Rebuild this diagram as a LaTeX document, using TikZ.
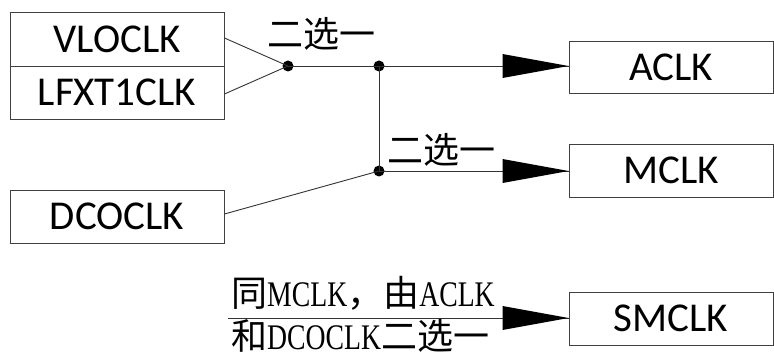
\documentclass[tikz,border=0pt]{standalone}
\usepackage{fontspec}
\setmainfont{Carlito}
\newfontfamily\cjk{Noto Sans CJK SC}
\newfontfamily\latcond[FakeStretch=0.77]{Liberation Serif}
\tikzset{
  box/.style={draw=black!75, line width=0.9pt, inner sep=0pt, font=\fontsize{41}{48}\selectfont},
  wire/.style={draw=black!80, line width=0.9pt},
  head/.style={fill=black},
  dot/.style={circle, fill=black, inner sep=0pt, minimum size=11pt},
  cn/.style={font=\fontsize{36}{40}\selectfont\cjk, inner sep=0pt}
}
\begin{document}
\begin{tikzpicture}[x=1pt,y=-1pt]
\useasboundingbox (0,0) rectangle (774,358);
\node[box, minimum width=214pt, minimum height=54pt] (vl) at (117,39) {VLOCLK};
\node[box, minimum width=214pt, minimum height=53pt] (lf) at (117,92.5) {LFXT1CLK};
\node[box, minimum width=214pt, minimum height=53pt] (dco) at (117,216.5) {DCOCLK};
\node[box, minimum width=204pt, minimum height=52pt] (ac) at (671,67) {ACLK};
\node[box, minimum width=204pt, minimum height=53pt] (mc) at (671,170.5) {MCLK};
\node[box, minimum width=204pt, minimum height=53pt] (sm) at (671,318.5) {SMCLK};
\node[dot] (d1) at (288,66) {};
\node[dot] (d2) at (379,66) {};
\node[dot] (d3) at (379,171) {};
\coordinate (s0) at (228,318);
\draw[wire] (vl.east |- 0,38) -- (d1.center);
\draw[wire] (lf.east |- 0,94) -- (d1.center);
\draw[wire] (dco.east |- 0,214) -- (d3.center);
\draw[wire] (d1.center) -- (d2.center) -- (d3.center);
\draw[wire] (d2.center) -- (d2.center -| ac.west);
\draw[wire] (d3.center) -- (d3.center -| mc.west);
\draw[wire] (s0) -- (s0 -| sm.west);
\fill[head] (d2.center -| ac.west) -- ++(-66,-12) -- ++(0,24) -- cycle;
\fill[head] (d3.center -| mc.west) -- ++(-66,-12) -- ++(0,24) -- cycle;
\fill[head] (s0 -| sm.west) -- ++(-66,-12) -- ++(0,24) -- cycle;
\node[cn] (t1) at (321,34) {二选一};
\node[cn] (t2) at (441,150) {二选一};
\node[cn, anchor=west] (t3) at (231,293) {同{\latcond MCLK}，由{\latcond ACLK}};
\node[cn, anchor=west] (t4) at (231,336) {和{\latcond DCOCLK}二选一};
\end{tikzpicture}
\end{document}
